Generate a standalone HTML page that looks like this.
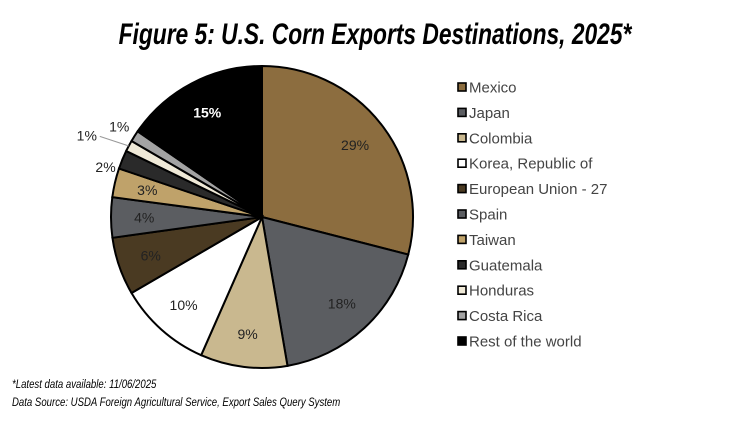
<!DOCTYPE html>
<html><head><meta charset="utf-8"><style>
body{margin:0;background:#fff;width:750px;height:423px;overflow:hidden;font-family:"Liberation Sans",sans-serif}
</style></head><body>
<svg width="750" height="423">
<text x="375" y="44" text-anchor="middle" font-size="30" font-weight="bold" font-style="italic" fill="#000" transform="translate(375,0) scale(0.76,1) translate(-375,0)">Figure 5: U.S. Corn Exports Destinations, 2025*</text>
<g id="pie"></g>
<g id="legend"></g>
<text x="12" y="388" font-size="12" font-style="italic" transform="translate(12,0) scale(0.8,1) translate(-12,0)">*Latest data available: 11/06/2025</text>
<text x="12" y="406" font-size="12" font-style="italic" transform="translate(12,0) scale(0.8,1) translate(-12,0)">Data Source: USDA Foreign Agricultural Service, Export Sales Query System</text>
</svg>
<script>
const categories=["Mexico","Japan","Colombia","Korea, Republic of","European Union - 27","Spain","Taiwan","Guatemala","Honduras","Costa Rica","Rest of the world"];
const values=[29.0,18.3,9.3,10.0,6.2,4.3,3.1,2.0,1.2,1.2,15.4];
const labels=["29%","18%","9%","10%","6%","4%","3%","2%","1%","1%","15%"];
const colors=["#8c6d3f","#5b5d61","#c9b88f","#ffffff","#4a3a22","#5b5d61","#bfa26a","#2a2a2a","#efe9d7","#a3a3a3","#000000"];
const NS="http://www.w3.org/2000/svg";
const cx=262,cy=217,r=151;
const pie=document.getElementById('pie'),leg=document.getElementById('legend');
const total=values.reduce((a,b)=>a+b,0);
function pt(a,rad){return [cx+rad*Math.sin(a),cy-rad*Math.cos(a)];}
let cum=0;
values.forEach((v,i)=>{
  const a0=cum/total*2*Math.PI;cum+=v;const a1=cum/total*2*Math.PI;
  const p0=pt(a0,r),p1=pt(a1,r);
  const path=document.createElementNS(NS,'path');
  path.setAttribute('d',`M${cx},${cy}L${p0[0]},${p0[1]}A${r},${r} 0 ${a1-a0>Math.PI?1:0} 1 ${p1[0]},${p1[1]}Z`);
  path.setAttribute('fill',colors[i]);path.setAttribute('stroke','#000');path.setAttribute('stroke-width','2');
  
  
  pie.appendChild(path);
  const am=(a0+a1)/2;
  const small=v<2.5;
  let lp=pt(am,small?r*1.12:r*0.78);
  if(i===8){lp=[lp[0]-26,lp[1]-2];
    const ln=document.createElementNS(NS,'line');const e=pt(am,r*1.0);
    ln.setAttribute('x1',lp[0]+13);ln.setAttribute('y1',lp[1]+1);ln.setAttribute('x2',e[0]);ln.setAttribute('y2',e[1]);
    ln.setAttribute('stroke','#999');ln.setAttribute('stroke-width','1');
    
    
    pie.appendChild(ln);}
  if(i===7){lp=[lp[0],lp[1]+14];}
  const t=document.createElementNS(NS,'text');
  t.setAttribute('x',lp[0]);t.setAttribute('y',lp[1]+5);t.setAttribute('text-anchor','middle');
  t.setAttribute('font-size','14');
  t.setAttribute('fill',(i===10)?'#fff':'#222');
  if(i===10)t.setAttribute('font-weight','bold');
  t.textContent=labels[i];
  
  
  pie.appendChild(t);
  const y=87+i*25.4;
  const g=document.createElementNS(NS,'g');
  
  
  const s=document.createElementNS(NS,'rect');
  s.setAttribute('x',458);s.setAttribute('y',y-4);s.setAttribute('width',8);s.setAttribute('height',8);
  s.setAttribute('fill',colors[i]);s.setAttribute('stroke','#000');s.setAttribute('stroke-width','1.6');
  g.appendChild(s);
  const lt=document.createElementNS(NS,'text');
  lt.setAttribute('x',469);lt.setAttribute('y',y+5.5);lt.setAttribute('font-size','15');lt.setAttribute('fill','#444');
  lt.textContent=categories[i];g.appendChild(lt);
  leg.appendChild(g);
});
</script>
</body></html>
